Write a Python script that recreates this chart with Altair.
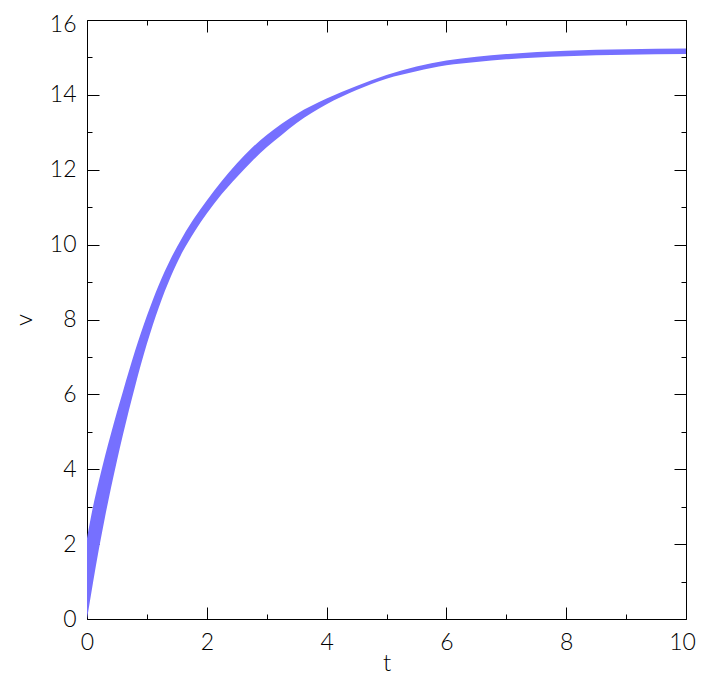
import altair as alt
import pandas as pd

# values
t_vals = [0, 0.1, 0.2, 0.3, 0.4, 0.5, 0.6, 0.8, 1.0, 1.2, 1.4, 1.6, 1.8, 2.0,
          2.25, 2.5, 2.75, 3.0, 3.25, 3.5, 4.0, 4.5, 5.0, 5.5, 6.0, 6.5, 7.0, 8.0, 9.0, 10.0]
v_upper = [2.16, 3.0, 3.7, 4.35, 4.95, 5.53, 6.08, 7.15, 8.1, 8.93, 9.63, 10.22, 10.73, 11.18,
           11.7, 12.17, 12.58, 12.93, 13.23, 13.49, 13.9, 14.24, 14.53, 14.76, 14.92, 15.02, 15.09, 15.18, 15.22, 15.24]
v_lower = [0.0, 0.97, 1.88, 2.72, 3.5, 4.23, 4.92, 6.2, 7.35, 8.33, 9.15, 9.82, 10.36, 10.83,
           11.35, 11.8, 12.22, 12.6, 12.93, 13.25, 13.75, 14.13, 14.43, 14.63, 14.79, 14.88, 14.95, 15.03, 15.07, 15.09]

x_major = [0, 2, 4, 6, 8, 10]
x_minor = [1, 3, 5, 7, 9]
y_major = [0, 2, 4, 6, 8, 10, 12, 14, 16]
y_minor = [1, 3, 5, 7, 9, 11, 13, 15]

df = pd.DataFrame({"t": t_vals, "hi": v_upper, "lo": v_lower})

W = 599
H = 599
BAND = "#7670ff"
FONT = "Lato"

xs = alt.Scale(domain=[0, 10], nice=False, zero=False)
ys = alt.Scale(domain=[0, 16], nice=False, zero=False)


def tick_axis(orient, values, size, offset):
    return alt.Axis(orient=orient, values=values, tickSize=size, offset=offset,
                    labels=False, domain=False, grid=False, title=None,
                    ticks=True, tickColor="black", tickWidth=1)


area = alt.Chart(df).mark_area(color=BAND, opacity=1, interpolate="monotone").encode(
    x=alt.X("t:Q", scale=xs,
            axis=alt.Axis(orient="bottom", values=x_major, ticks=False, domain=False, grid=False,
                          labelFont=FONT, labelFontSize=23, labelFontWeight=300, labelColor="black",
                          labelPadding=12, labelFlush=False, labelOverlap=False,
                          labelOffset={"condition": {"test": "datum.value === 10", "value": -4}, "value": 0},
                          title="t", titleFont=FONT, titleFontSize=24, titleFontWeight=300,
                          titleColor="black", titlePadding=-3)),
    y=alt.Y("hi:Q", scale=ys,
            axis=alt.Axis(orient="left", values=y_major, ticks=False, domain=False, grid=False,
                          labelFont=FONT, labelFontSize=23, labelFontWeight=300, labelColor="black",
                          labelPadding=11, labelFlush=False, labelOverlap=False,
                          labelOffset={"condition": {"test": "datum.value === 16", "value": 4}, "value": 0},
                          title="v", titleFont=FONT, titleFontSize=24, titleFontWeight=300,
                          titleColor="black", titlePadding=13)),
    y2="lo:Q",
)


def helper(xo, yo, xv, yv, size):
    return alt.Chart(df).mark_line(opacity=0).encode(
        x=alt.X("t:Q", scale=xs, axis=tick_axis(xo, xv, size, -H)),
        y=alt.Y("lo:Q", scale=ys, axis=tick_axis(yo, yv, size, -W)),
    )


layers = [
    helper("top", "right", x_major, y_major, 12),
    helper("bottom", "left", x_major, y_major, 12),
    helper("top", "right", x_minor, y_minor, 5),
    helper("bottom", "left", x_minor, y_minor, 5),
    area,
]

chart = alt.layer(*layers).resolve_axis(x="independent", y="independent").properties(
    width=W, height=H, autosize="none",
    padding={"left": 79, "top": 12, "right": 12, "bottom": 56},
).configure_view(stroke="black", strokeWidth=1)

chart.save("out.html", embed_options={"renderer": "svg", "actions": False})
